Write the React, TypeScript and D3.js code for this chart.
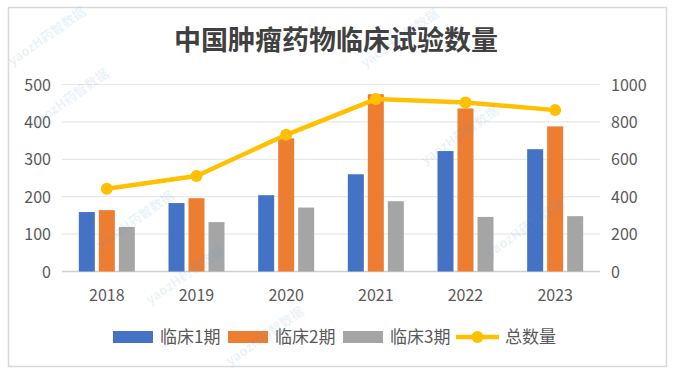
import React from "react";
import * as d3 from "d3";

const years = ["2018", "2019", "2020", "2021", "2022", "2023"];
const phase1 = [159, 183, 204, 260, 322, 327];
const phase2 = [164, 196, 356, 474, 436, 388];
const phase3 = [119, 132, 171, 188, 146, 148];
const totals = [442, 511, 731, 922, 904, 863];
const leftTicks = [0, 100, 200, 300, 400, 500];
const rightTicks = [0, 200, 400, 600, 800, 1000];

const seriesNames = ["临床1期", "临床2期", "临床3期"];
const colors = ["#4472C4", "#ED7D31", "#A5A5A5"];
const lineColor = "#FFC000";
const font = "'Noto Sans CJK SC', 'Noto Sans', sans-serif";

const W = 675;
const H = 374;
const plot = { left: 62, right: 600, top: 84.5, bottom: 271.5 };

// faint watermark spots
const marks = [
  [12, 66],
  [35, 128],
  [100, 250],
  [150, 305],
  [365, 68],
  [425, 165],
  [490, 258],
  [230, 366],
];

export default function App() {
  const x = d3.scaleBand<string>().domain(years).range([plot.left, plot.right]);
  const yL = d3.scaleLinear().domain([0, 500]).range([plot.bottom, plot.top]);
  const yR = d3.scaleLinear().domain([0, 1000]).range([plot.bottom, plot.top]);
  const barW = 16;
  const gap = 4;
  const series = [phase1, phase2, phase3];

  const line = d3
    .line<number>()
    .x((_, i) => x(years[i])! + x.bandwidth() / 2)
    .y((d) => yR(d));

  const legendItems = [
    { x: 113, label: seriesNames[0], color: colors[0], type: "bar" },
    { x: 228, label: seriesNames[1], color: colors[1], type: "bar" },
    { x: 343, label: seriesNames[2], color: colors[2], type: "bar" },
    { x: 456, label: "总数量", color: lineColor, type: "line" },
  ];

  return (
    <svg
      width={W}
      height={H}
      style={{ position: "absolute", left: 0, top: 0, fontFamily: font }}
    >
      <rect x={0} y={0} width={W} height={H} fill="#fff" />
      <rect x={8.5} y={7.5} width={658} height={359} fill="#fff" stroke="#D9D9D9" strokeWidth={1.5} />

      <text x={336} y={50} textAnchor="middle" fontSize={27} fontWeight="bold" fill="#404040">
        中国肿瘤药物临床试验数量
      </text>

      {leftTicks.map((t) => (
        <g key={t}>
          <line x1={plot.left} x2={plot.right} y1={yL(t)} y2={yL(t)} stroke={t === 0 ? "#D0D0D0" : "#E8E8E8"} strokeWidth={t === 0 ? 1.5 : 1.2} />
          <text x={51} y={yL(t) + 6} textAnchor="end" fontSize={16} fill="#595959">
            {t}
          </text>
        </g>
      ))}
      {rightTicks.map((t) => (
        <text key={t} x={611} y={yR(t) + 6} textAnchor="start" fontSize={16} fill="#595959">
          {t}
        </text>
      ))}

      {years.map((yr, i) => (
        <g key={yr}>
          {series.map((s, k) => {
            const cx = x(yr)! + x.bandwidth() / 2;
            const bx = cx - barW / 2 + (k - 1) * (barW + gap);
            return (
              <rect key={k} x={bx} y={yL(s[i])} width={barW} height={yL(0) - yL(s[i])} fill={colors[k]} />
            );
          })}
          <text x={x(yr)! + x.bandwidth() / 2} y={301} textAnchor="middle" fontSize={16} fill="#595959">
            {yr}
          </text>
        </g>
      ))}

      <path d={line(totals) ?? ""} fill="none" stroke={lineColor} strokeWidth={4.5} strokeLinejoin="round" />
      {totals.map((v, i) => (
        <circle key={i} cx={x(years[i])! + x.bandwidth() / 2} cy={yR(v)} r={6} fill={lineColor} />
      ))}

      {legendItems.map((it) => (
        <g key={it.label}>
          {it.type === "bar" ? (
            <rect x={it.x} y={331} width={40} height={12} fill={it.color} />
          ) : (
            <g>
              <line x1={it.x} x2={it.x + 43} y1={337} y2={337} stroke={it.color} strokeWidth={4.5} />
              <circle cx={it.x + 21.5} cy={337} r={6} fill={it.color} />
            </g>
          )}
          <text x={it.x + (it.type === "bar" ? 47 : 49)} y={343} fontSize={17} fill="#595959">
            {it.label}
          </text>
        </g>
      ))}

      {marks.map(([mx, my], i) => (
        <text
          key={i}
          transform={`translate(${mx},${my}) rotate(-35)`}
          fontSize={13}
          fontWeight="bold"
          fill="#5B9BD5"
          fillOpacity={0.13}
        >
          yaozH药智数据
        </text>
      ))}
    </svg>
  );
}
